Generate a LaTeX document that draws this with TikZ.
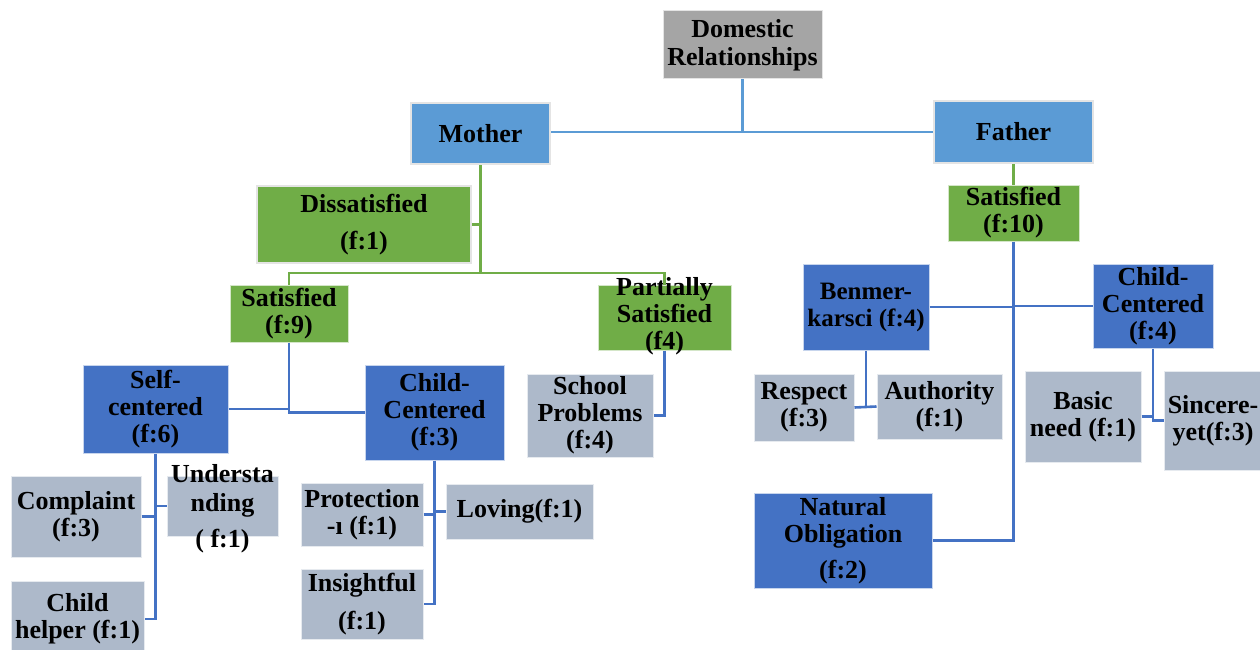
\documentclass[tikz,border=0pt]{standalone}
\usepackage{fontspec}
\setmainfont{Liberation Serif}
\definecolor{rootgray}{HTML}{A5A5A5}
\definecolor{lightblue}{HTML}{5B9BD5}
\definecolor{leafgreen}{HTML}{70AD47}
\definecolor{deepblue}{HTML}{4472C4}
\definecolor{paleslate}{HTML}{ADB9CA}
\definecolor{framegray}{HTML}{E4E4E4}
\tikzset{
  box/.style={rectangle, inner sep=0pt, align=center,
    font=\fontsize{26}{27}\selectfont\bfseries, text=black},
  framed/.style={box, draw=framegray, line width=2.5pt},
  plain/.style={box, draw=white!70!#1, line width=1pt, fill=#1},
  wh/.style 2 args={minimum width=#1pt, minimum height=#2pt},
  label/.style={inner sep=0pt, align=center,
    font=\fontsize{26}{27}\selectfont\bfseries, text=black},
  toplink/.style={draw=lightblue, line width=2.6pt},
  greenlink/.style={draw=leafgreen, line width=2.6pt},
  bluelink/.style={draw=deepblue, line width=2.6pt}
}
\begin{document}
\begin{tikzpicture}[x=1pt, y=-1pt]
\useasboundingbox (0,0) rectangle (1260,650);
\fill[white] (0,0) rectangle (1260,650);

% ---- top level ----
\node[framed, fill=rootgray, line width=1pt, wh={159}{68}] (root) at (742.5,45) {Domestic\\[1pt]Relationships};
\node[framed, fill=lightblue, wh={139}{61}] (mother) at (480.5,133.5) {Mother};
\node[framed, fill=lightblue, wh={159}{62}] (father) at (1013.5,132) {Father};

% ---- mother branch ----
\node[framed, fill=leafgreen, wh={214}{77}] (dissat) at (364,224.5) {Dissatisfied\\[10pt](f:1)};
\node[plain=leafgreen, wh={118}{57}] (msat) at (289,313.5) {Satisfied\\(f:9)};
\node[plain=leafgreen, wh={133}{65}] (partial) at (664.5,317.5) {};
\node[label] (partialtext) at (664.5,316) {Partially\\Satisfied\\(f4)};

\node[plain=deepblue, wh={145}{88}] (self) at (155.5,409) {Self-\\centered\\(f:6)};
\node[plain=deepblue, wh={139}{95}] (mchild) at (434.5,412.5) {Child-\\Centered\\(f:3)};
\node[plain=paleslate, wh={126}{83}] (school) at (590,415.5) {School\\Problems\\(f:4)};

\node[plain=paleslate, wh={130}{81}] (complaint) at (76,516.5) {Complaint\\(f:3)};
\node[plain=paleslate, wh={111}{60}] (underst) at (222.5,506) {};
\node[label] (understtext) at (222.5,509) {Understa\\[2pt]nding\\[9pt]( f:1)};
\node[plain=paleslate, wh={133}{76}] (helper) at (77.5,619) {Child\\helper (f:1)};

\node[plain=paleslate, wh={122}{63}] (protect) at (362,514.5) {Protection\\-ı (f:1)};
\node[plain=paleslate, wh={147}{55}] (loving) at (519.5,511.5) {Loving(f:1)};
\node[plain=paleslate, wh={122}{70}] (insight) at (362,604) {Insightful\\[11pt](f:1)};

% ---- father branch ----
\node[plain=leafgreen, wh={131}{56}] (fsat) at (1013.5,213) {Satisfied\\(f:10)};
\node[plain=deepblue, wh={126}{86}, font=\fontsize{25}{27}\selectfont\bfseries] (benmer) at (866,307) {Benmer-\\karsci (f:4)};
\node[plain=deepblue, wh={120}{84}] (fchild) at (1153,306) {Child-\\Centered\\(f:4)};
\node[plain=paleslate, wh={100}{67}] (respect) at (804,407.5) {Respect\\(f:3)};
\node[plain=paleslate, wh={125}{65}] (authority) at (939.5,406.5) {Authority\\(f:1)};
\node[plain=paleslate, wh={116}{91}] (basic) at (1083,416.5) {Basic\\need (f:1)};
\node[plain=paleslate, wh={98}{99}] (sincere) at (1213,420.5) {Sincere-\\yet(f:3)};
\node[plain=deepblue, wh={178}{95}] (natural) at (843,540.5) {Natural\\Obligation\\[9pt](f:2)};

% ---- connectors: top level ----
\draw[toplink] (root.south) -- (root.south |- father.west);
\draw[toplink] (mother.east |- father.west) -- (father.west);

% ---- connectors: mother ----
\coordinate (mbar) at (480.5,273);
\draw[greenlink] (mother.south) -- (mbar);
\draw[greenlink] (dissat.east) -- (dissat.east -| mbar);
\draw[greenlink] (msat.north) -- (msat.north |- mbar) -- (partial.north |- mbar) -- (partial.north);

\draw[bluelink] (self.east) -- (self.east -| msat.south);
\draw[bluelink] (msat.south) -- (msat.south |- mchild.west) -- (mchild.west);
\draw[bluelink] (partial.south) -- (partial.south |- school.east) -- (school.east);

\draw[bluelink] (self.south) -- (self.south |- helper.east) -- (helper.east);
\draw[bluelink] (complaint.east) -- (complaint.east -| self.south);
\draw[bluelink] (underst.west) -- (underst.west -| self.south);

\draw[bluelink] (mchild.south) -- (mchild.south |- insight.east) -- (insight.east);
\draw[bluelink] (protect.east) -- (protect.east -| mchild.south);
\draw[bluelink] (loving.west) -- (loving.west -| mchild.south);

% ---- connectors: father ----
\draw[greenlink] (father.south) -- (fsat.north);
\draw[bluelink] (fsat.south) -- (fsat.south |- natural.east) -- (natural.east);
\draw[bluelink] (benmer.east) -- (benmer.east -| fsat.south);
\draw[bluelink] (fchild.west) -- (fchild.west -| fsat.south);

\draw[bluelink] (benmer.south) -- (benmer.south |- respect.east);
\draw[bluelink] (respect.east) -- (authority.west);

\draw[bluelink] (fchild.south) -- (fchild.south |- sincere.west) -- (sincere.west);
\draw[bluelink] (basic.east) -- (basic.east -| fchild.south);
\end{tikzpicture}
\end{document}
